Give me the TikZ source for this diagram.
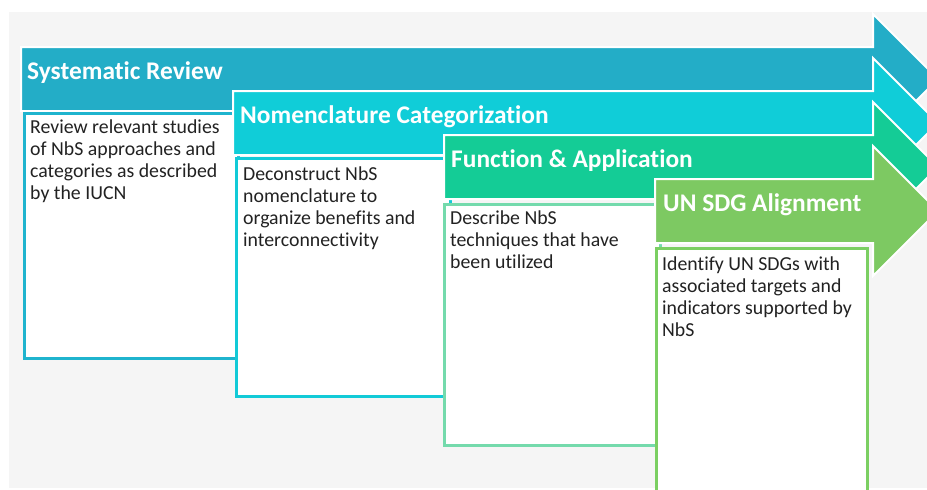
\documentclass[tikz,border=0pt]{standalone}
\usepackage{fontspec}
\setmainfont[Ligatures=NoCommon]{Carlito}
\usepackage{tikz}
\usetikzlibrary{positioning}
\usepackage{xcolor}
\definecolor{paperGrey}{HTML}{F5F5F5}
\definecolor{stageBlue}{HTML}{23ADC7}
\definecolor{stageCyan}{HTML}{10CDD8}
\definecolor{stageTeal}{HTML}{14CC96}
\definecolor{stageGreen}{HTML}{7DC962}
\definecolor{panelBlue}{HTML}{1FB4CE}
\definecolor{panelCyan}{HTML}{12CAD7}
\definecolor{panelTeal}{HTML}{74DAAC}
\definecolor{panelGreen}{HTML}{7BCF62}
\definecolor{inkDark}{HTML}{222222}

\begin{document}
\begin{tikzpicture}[
    x=1pt, y=-1pt,
    stage/.style={draw=white, line width=2pt, line join=miter},
    panel/.style={fill=white, line width=3pt},
    title/.style={anchor=base west, inner sep=0pt, text=white, font=\fontsize{25.4}{30}\selectfont\bfseries},
    desc/.style={anchor=north west, inner sep=0pt, align=left, text=inkDark, font=\fontsize{19.8}{22}\selectfont}
]
    \useasboundingbox (0,0) rectangle (927,490);
    \clip (0,0) rectangle (927,490);
    \fill[paperGrey] (9,12) rectangle (927,488);

    % Systematic Review
    \filldraw[stage, fill=stageBlue] (21,47) -- (873,47) -- (873,14) -- (938,79) -- (873,144) -- (873,111) -- (21,111) -- cycle;
    \node[title] (T1) at (27,79) {Systematic Review};
    \draw[panel, draw=panelBlue] (24.5,113.5) rectangle (238,358);
    \node[desc] (D1) at (30,117.6) {\strut Review relevant studies\\of NbS approaches and\\categories as described\\by the IUCN};

    % Nomenclature Categorization
    \filldraw[stage, fill=stageCyan] (233,91) -- (873,91) -- (873,58) -- (938,123) -- (873,188) -- (873,155) -- (233,155) -- cycle;
    \node[title] (T2) at (240,123) {Nomenclature Categorization};
    \draw[panel, draw=panelCyan] (236.5,158.5) rectangle (450,396.5);
    \node[desc] (D2) at (243,164.6) {\strut Deconstruct NbS\\nomenclature to\\organize benefits and\\interconnectivity};

    % Function & Application
    \filldraw[stage, fill=stageTeal] (444,135) -- (873,135) -- (873,102) -- (938,167) -- (873,232) -- (873,199) -- (444,199) -- cycle;
    \node[title] (T3) at (451,167) {Function \& Application};
    \draw[panel, draw=panelTeal] (444.5,204.5) rectangle (660,445.5);
    \node[desc] (D3) at (450,208.6) {\strut Describe NbS\\techniques that have\\been utilized};

    % UN SDG Alignment
    \filldraw[stage, fill=stageGreen] (655,179) -- (873,179) -- (873,146) -- (938,211) -- (873,276) -- (873,243) -- (655,243) -- cycle;
    \node[title] (T4) at (663,211) {UN SDG Alignment};
    \draw[panel, draw=panelGreen] (656.5,248.5) rectangle (867.5,500);
    \node[desc] (D4) at (662,254.6) {\strut Identify UN SDGs with\\associated targets and\\indicators supported by\\NbS};
\end{tikzpicture}
\end{document}
